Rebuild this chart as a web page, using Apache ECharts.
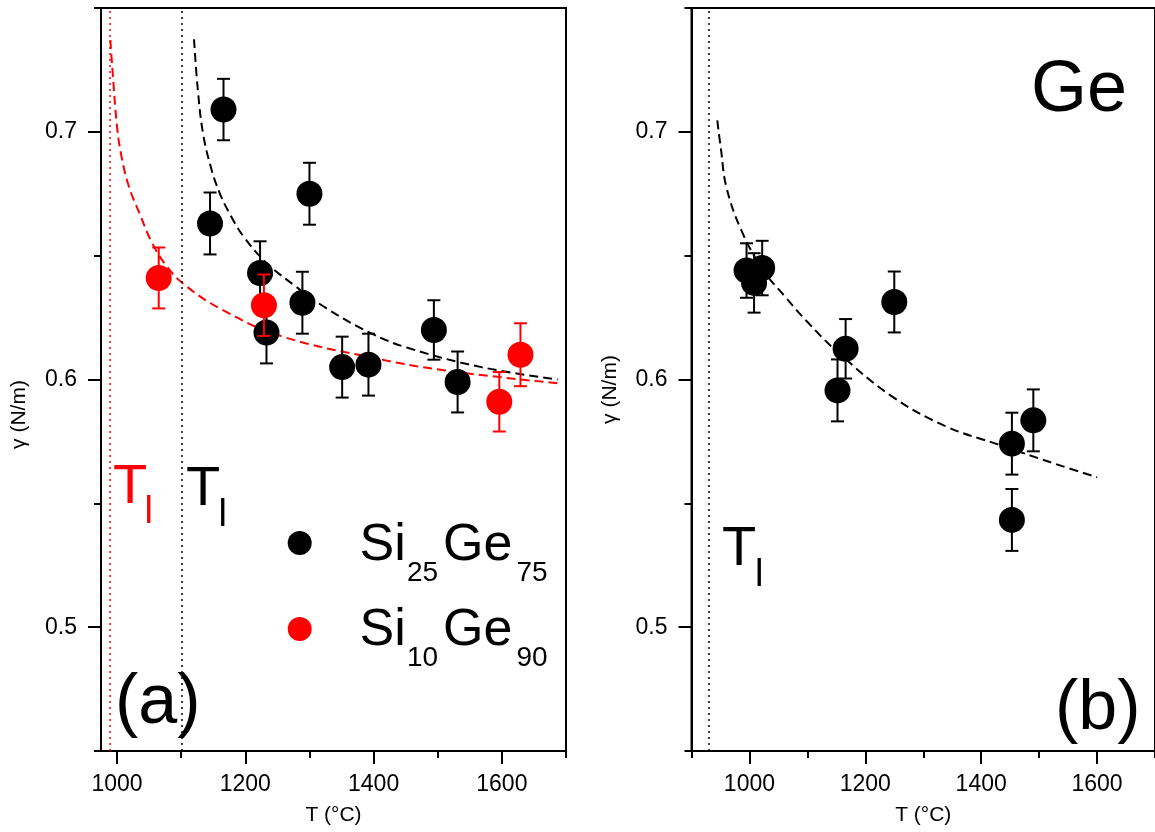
<!DOCTYPE html>
<html><head><meta charset="utf-8">
<script src="https://cdn.jsdelivr.net/npm/echarts@6/dist/echarts.min.js"></script>
<style>html,body{margin:0;padding:0;background:#fff}#c{width:1155px;height:832px}</style>
</head><body><div id="c"></div>
<script>
// ---------- Data: panel (a) ----------
const tSi25Ge75 = [1145, 1166, 1223, 1233, 1289, 1300, 1351, 1392, 1494, 1531];
const gSi25Ge75 = [0.663, 0.709, 0.643, 0.619, 0.631, 0.675, 0.605, 0.606, 0.620, 0.599];
const eSi25Ge75 = [0.0125, 0.0124, 0.0128, 0.0125, 0.0125, 0.0125, 0.0123, 0.0125, 0.012, 0.0123];

const tSi10Ge90 = [1065, 1229, 1596, 1629];
const gSi10Ge90 = [0.641, 0.630, 0.591, 0.610];
const eSi10Ge90 = [0.0123, 0.0124, 0.012, 0.0127];

// fit curves
const fitSi25Ge75T = [1120, 1126, 1134, 1146, 1160, 1178, 1198, 1233, 1279, 1325, 1395, 1453, 1568, 1687];
const fitSi25Ge75G = [0.7374, 0.7169, 0.6995, 0.686, 0.6753, 0.6658, 0.6575, 0.6471, 0.6375, 0.6290, 0.6188, 0.6128, 0.6050, 0.600];
const fitSi10Ge90T = [989.6, 992.5, 1000, 1007, 1018.5, 1036, 1053, 1076, 1105, 1163, 1256, 1395, 1510, 1687];
const fitSi10Ge90G = [0.7371, 0.7263, 0.7021, 0.690, 0.6779, 0.6665, 0.6560, 0.6462, 0.6383, 0.6283, 0.6175, 0.6090, 0.6037, 0.5985];

const liquidusA = [988, 1101]; // Si10Ge90 (red), Si25Ge75 (black)

// ---------- Data: panel (b) Ge ----------
const tGe = [995, 1008, 1022, 1152, 1166, 1250, 1453, 1453, 1490];
const gGe = [0.644, 0.639, 0.645, 0.5956, 0.6124, 0.6313, 0.5433, 0.5741, 0.5835];
const eGe = [0.011, 0.012, 0.011, 0.0125, 0.012, 0.0123, 0.0125, 0.0125, 0.0125];
const fitGeT = [944.5, 951, 960, 985.5, 1023, 1061, 1099, 1149, 1244, 1338, 1433, 1527, 1600];
const fitGeG = [0.7046, 0.6927, 0.6779, 0.6605, 0.6444, 0.6336, 0.6235, 0.6118, 0.5935, 0.5812, 0.5735, 0.5660, 0.5605];
const liquidusB = [930];

// ---------- Ticks ----------
const xMajorA = [1000, 1200, 1400, 1600];
const xMinorA = [1100, 1300, 1500, 1700];
const xMajorB = [1000, 1200, 1400, 1600];
const xMinorB = [900, 1100, 1300, 1500, 1700];
const yMajor = [0.5, 0.6, 0.7];
const yMinor = [0.45, 0.55, 0.65, 0.75];

const FONT = "'Liberation Sans', Arial, sans-serif";
const RED = '#ff0000';

const zip = (a, b) => a.map((v, i) => [v, b[i]]);
const errData = (t, g, e) => t.map((v, i) => [v, g[i] - e[i], g[i] + e[i]]);

function errRender(color) {
  return function (params, api) {
    const x = api.value(0);
    const pLo = api.coord([x, api.value(1)]);
    const pHi = api.coord([x, api.value(2)]);
    const w = 6.5;
    const st = { stroke: color, lineWidth: 2 };
    return { type: 'group', children: [
      { type: 'line', shape: { x1: pHi[0], y1: pHi[1], x2: pLo[0], y2: pLo[1] }, style: st },
      { type: 'line', shape: { x1: pHi[0] - w, y1: pHi[1], x2: pHi[0] + w, y2: pHi[1] }, style: st },
      { type: 'line', shape: { x1: pLo[0] - w, y1: pLo[1], x2: pLo[0] + w, y2: pLo[1] }, style: st }
    ]};
  };
}

function xMain(grid, min, max, major) {
  return {
    type: 'value', gridIndex: grid, position: 'bottom', min: min, max: max,
    name: 'T (°C)', nameLocation: 'middle', nameGap: 54,
    nameTextStyle: { fontFamily: FONT, fontSize: 21, color: '#000' },
    axisLine: { show: true, lineStyle: { color: '#000', width: 2 } },
    axisTick: { show: true, inside: false, length: 13, customValues: major, lineStyle: { color: '#000', width: 2 } },
    axisLabel: { show: true, customValues: major, margin: 22, fontFamily: FONT, fontSize: 23, color: '#000',
      formatter: v => String(Math.round(v)) },
    splitLine: { show: false }
  };
}
function xMinor(grid, min, max, minor) {
  return {
    type: 'value', gridIndex: grid, position: 'bottom', offset: 0, min: min, max: max,
    axisLine: { show: false },
    axisTick: { show: true, inside: false, length: 7, customValues: minor, lineStyle: { color: '#000', width: 2 } },
    axisLabel: { show: false }, splitLine: { show: false }
  };
}
function yMain(grid, padRight) {
  return {
    type: 'value', gridIndex: grid, position: 'left', min: 0.45, max: 0.75,
    name: 'γ (N/m)', nameLocation: 'middle', nameGap: 71,
    nameTextStyle: { fontFamily: FONT, fontSize: 21, color: '#000', padding: [0, padRight, 0, 0] },
    axisLine: { show: true, lineStyle: { color: '#000', width: 2 } },
    axisTick: { show: true, inside: false, length: 13, customValues: yMajor, lineStyle: { color: '#000', width: 2 } },
    axisLabel: { show: true, customValues: yMajor, margin: 24, fontFamily: FONT, fontSize: 23, color: '#000',
      formatter: v => v.toFixed(1) },
    splitLine: { show: false }
  };
}
function yMinorAx(grid) {
  return {
    type: 'value', gridIndex: grid, position: 'left', offset: 0, min: 0.45, max: 0.75,
    axisLine: { show: false },
    axisTick: { show: true, inside: false, length: 7, customValues: yMinor, lineStyle: { color: '#000', width: 2 } },
    axisLabel: { show: false }, splitLine: { show: false }
  };
}

function vLines(vals, color) {
  return {
    silent: true, symbol: ['none', 'none'], label: { show: false },
    lineStyle: { color: color, type: [2, 4], width: 1.5, opacity: 1 },
    emphasis: { disabled: true },
    data: vals.map(v => ({ xAxis: v }))
  };
}

const txt = (text, x, y, size, color) => ({
  type: 'text', x: x, y: y, z: 100,
  style: { text: text, fill: color || '#000', fontFamily: FONT, fontSize: size,
    textAlign: 'left', textVerticalAlign: 'middle', verticalAlign: 'middle' }
});

const fitLine = (name, xi, yi, t, g, color) => ({
  name: name, type: 'line', xAxisIndex: xi, yAxisIndex: yi, data: zip(t, g),
  showSymbol: false, smooth: 0.4, silent: true,
  lineStyle: { color: color, width: 2, type: [9, 5] }, z: 2
});
const dots = (name, xi, yi, t, g, color, z, ml) => ({
  name: name, type: 'scatter', xAxisIndex: xi, yAxisIndex: yi, data: zip(t, g),
  symbol: 'circle', symbolSize: 26, itemStyle: { color: color, opacity: 1 }, z: z,
  emphasis: { disabled: true }, markLine: ml
});
const bars = (name, xi, yi, t, g, e, color, z) => ({
  name: name, type: 'custom', xAxisIndex: xi, yAxisIndex: yi, data: errData(t, g, e),
  renderItem: errRender(color), z: z, silent: true
});

const option = {
  animation: false,
  backgroundColor: '#fff',
  grid: [
    { left: 101, top: 8, width: 465, height: 743, show: true, borderColor: '#000', borderWidth: 2, backgroundColor: 'transparent' },
    { left: 691.5, top: 8, right: -2, height: 743, show: true, borderColor: '#000', borderWidth: 2, backgroundColor: 'transparent' }
  ],
  xAxis: [
    xMain(0, 975, 1700, xMajorA), xMinor(0, 975, 1700, xMinorA),
    xMain(1, 900, 1700, xMajorB), xMinor(1, 900, 1700, xMinorB)
  ],
  yAxis: [ yMain(0, 70), yMinorAx(0), yMain(1, 20), yMinorAx(1) ],
  series: [
    fitLine('Si25Ge75 fit', 0, 0, fitSi25Ge75T, fitSi25Ge75G, '#000'),
    fitLine('Si10Ge90 fit', 0, 0, fitSi10Ge90T, fitSi10Ge90G, RED),
    dots('Si25Ge75', 0, 0, tSi25Ge75, gSi25Ge75, '#000', 3, vLines([liquidusA[1]], '#000')),
    bars('Si25Ge75 err', 0, 0, tSi25Ge75, gSi25Ge75, eSi25Ge75, '#000', 4),
    dots('Si10Ge90', 0, 0, tSi10Ge90, gSi10Ge90, RED, 5, vLines([liquidusA[0]], RED)),
    bars('Si10Ge90 err', 0, 0, tSi10Ge90, gSi10Ge90, eSi10Ge90, RED, 6),
    fitLine('Ge fit', 2, 2, fitGeT, fitGeG, '#000'),
    dots('Ge', 2, 2, tGe, gGe, '#000', 3, vLines(liquidusB, '#000')),
    bars('Ge err', 2, 2, tGe, gGe, eGe, '#000', 4)
  ],
  graphic: { elements: [
    // liquidus labels
    txt('T', 113, 488, 56, RED), txt('l', 144.5, 513, 38, RED),
    txt('T', 186, 490, 56, '#000'), txt('l', 218.5, 516, 38, '#000'),
    txt('T', 722, 550, 56, '#000'), txt('l', 755, 576, 38, '#000'),
    // panel labels
    txt('(a)', 115, 704, 70, '#000'),
    txt('(b)', 1055, 710, 70, '#000'),
    txt('Ge', 1031, 91, 72, '#000'),
    // legend
    { type: 'circle', z: 100, shape: { cx: 299.7, cy: 543, r: 12 }, style: { fill: '#000' } },
    { type: 'circle', z: 100, shape: { cx: 299.7, cy: 629, r: 12 }, style: { fill: RED } },
    txt('Si', 359.5, 546, 52), txt('25', 407, 573, 28), txt('Ge', 443, 546, 52), txt('75', 516.5, 573, 28),
    txt('Si', 359.5, 631, 52), txt('10', 407, 658, 28), txt('Ge', 443, 631, 52), txt('90', 516.5, 658, 28)
  ]}
};

const chart = echarts.init(document.getElementById('c'), null, { renderer: 'canvas' });
chart.setOption(option);
</script>
</body></html>
